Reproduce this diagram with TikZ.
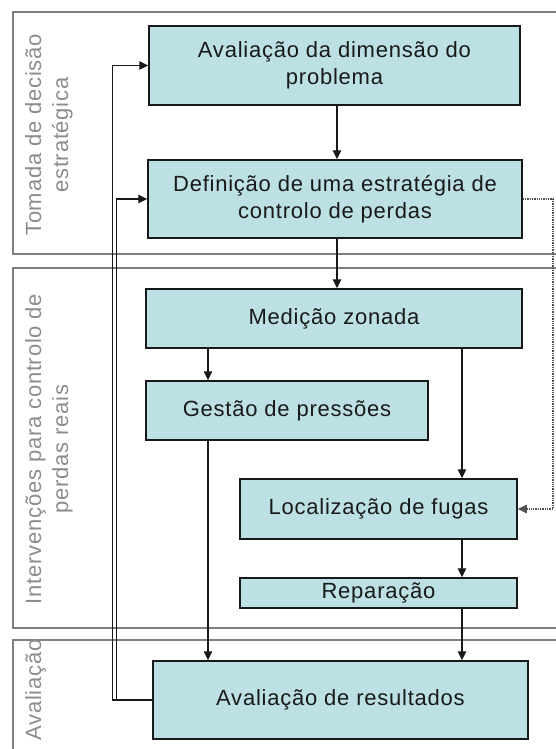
\documentclass[tikz,border=0pt]{standalone}
\usepackage{fontspec}
\setmainfont[LetterSpace=3.5]{Liberation Sans}
\usetikzlibrary{arrows.meta}
\definecolor{boxfill}{RGB}{188,224,227}
\definecolor{lanegray}{RGB}{128,128,128}
\definecolor{labelgray}{RGB}{140,140,140}
\definecolor{ink}{RGB}{25,25,25}
\tikzset{
  lane/.style={draw=lanegray, line width=1.5pt},
  lanelabel/.style={text=labelgray, rotate=90, anchor=north, inner sep=0pt, align=center, font=\fontsize{22}{27}\selectfont},
  procbox/.style={draw=ink, fill=boxfill, line width=1.5pt, inner sep=0pt, align=center, text=ink, font=\fontsize{22}{27}\selectfont},
  arr/.style={draw=ink, line width=1.3pt, -{Triangle[length=9pt,width=8.5pt]}},
  dotarr/.style={draw=ink!75, line width=1.3pt, densely dotted, -{Triangle[length=9pt,width=8.5pt]}}
}
\begin{document}
\begin{tikzpicture}[x=1pt,y=-1pt]
\useasboundingbox (0,0) rectangle (556,749);
\clip (0,0) rectangle (556,749);
% lanes
\draw[lane] (13,12) rectangle (575,254);
\draw[lane] (13,268) rectangle (575,628);
\draw[lane] (13,640) rectangle (575,770);
\node[lanelabel] (l1) at (25,135) {Tomada de decisão\\estratégica};
\node[lanelabel] (l2) at (25,449) {Intervenções para controlo de\\perdas reais};
\node[lanelabel] (l3) at (25,690) {Avaliação};
% boxes
\node[procbox, minimum width=371pt, minimum height=79pt] (b1) at (334.5,65.5) {Avaliação da dimensão do\\problema};
\node[procbox, minimum width=374pt, minimum height=78pt] (b2) at (335,199) {Definição de uma estratégia de\\controlo de perdas};
\node[procbox, minimum width=376pt, minimum height=59pt] (b3) at (334,318.5) {Medição zonada};
\node[procbox, minimum width=282pt, minimum height=59pt] (b4) at (287,410.5) {Gestão de pressões};
\node[procbox, minimum width=277pt, minimum height=60pt] (b5) at (378.5,509) {Localização de fugas};
\node[procbox, minimum width=277pt, minimum height=30pt] (b6) at (378.5,593) {Reparação};
\node[procbox, minimum width=375pt, minimum height=78pt] (b7) at (340.5,700) {Avaliação de resultados};
% guide coordinates
\coordinate (xa) at (337,0);
\coordinate (xb) at (208,0);
\coordinate (xc) at (462,0);
\coordinate (xr) at (553,0);
% arrows
\draw[arr] (b1.south -| xa) -- (b2.north -| xa);
\draw[arr] (b2.south -| xa) -- (b3.north -| xa);
\draw[arr] (b3.south -| xb) -- (b4.north -| xb);
\draw[arr] (b3.south -| xc) -- (b5.north -| xc);
\draw[arr] (b4.south -| xb) -- (b7.north -| xb);
\draw[arr] (b5.south -| xc) -- (b6.north -| xc);
\draw[arr] (b6.south -| xc) -- (b7.north -| xc);
\draw[dotarr] (b2.east) -- (b2.east -| xr) |- (b5.east);
\draw[arr] (b7.west) -- ++(-40,0) |- (b1.west);
\draw[arr] (b7.west) -- ++(-36,0) |- (b2.west);
\end{tikzpicture}
\end{document}
